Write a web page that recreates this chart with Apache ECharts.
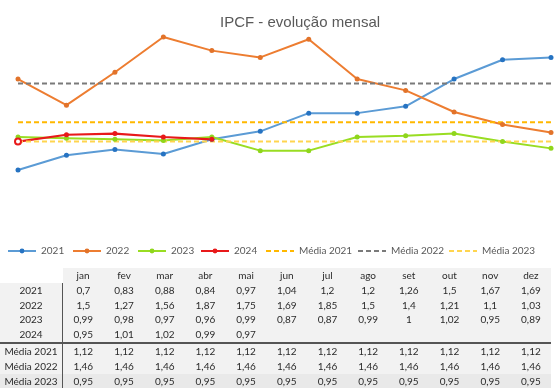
<!DOCTYPE html>
<html>
<head>
<meta charset="utf-8">
<script src="https://cdn.jsdelivr.net/npm/echarts@6/dist/echarts.min.js"></script>
<style>
  html, body { margin: 0; padding: 0; background: #fff; }
  #wrap { position: relative; width: 559px; height: 388px; overflow: hidden; }
  #chart { position: absolute; left: 0; top: 0; width: 559px; height: 388px; }
  #tbl { position: absolute; left: 0; top: 268px; border-collapse: collapse; font-family: Lato, "Liberation Sans", sans-serif; font-size: 10px; color: #2b2b2b; }
  #tbl td { height: 14.8px; padding: 0; text-align: center; background: #f2f2f2; line-height: 14.8px; }
  #tbl td.lab { width: 62px; }
  #tbl td.val { width: 40.7px; }
  #tbl td.corner { background: #fff; }
  #tbl td.vb { border-right: 1.5px solid #555; }
  #tbl tr.sep td { border-top: 2px solid #555; }
  #tbl tr.last td { background: #e9e9e9; }
</style>
</head>
<body>
<div id="wrap">
  <div id="chart"></div>
  <table id="tbl"></table>
</div>
<script>
const months = ['jan','fev','mar','abr','mai','jun','jul','ago','set','out','nov','dez'];
const s2021 = [0.7, 0.83, 0.88, 0.84, 0.97, 1.04, 1.2, 1.2, 1.26, 1.5, 1.67, 1.69];
const s2022 = [1.5, 1.27, 1.56, 1.87, 1.75, 1.69, 1.85, 1.5, 1.4, 1.21, 1.1, 1.03];
const s2023 = [0.99, 0.98, 0.97, 0.96, 0.99, 0.87, 0.87, 0.99, 1, 1.02, 0.95, 0.89];
const s2024 = [0.95, 1.01, 1.02, 0.99, 0.97];
const media2021 = [1.12, 1.12, 1.12, 1.12, 1.12, 1.12, 1.12, 1.12, 1.12, 1.12, 1.12, 1.12];
const media2022 = [1.46, 1.46, 1.46, 1.46, 1.46, 1.46, 1.46, 1.46, 1.46, 1.46, 1.46, 1.46];
const media2023 = [0.95, 0.95, 0.95, 0.95, 0.95, 0.95, 0.95, 0.95, 0.95, 0.95, 0.95, 0.95];

const rows = [
  ['2021', s2021], ['2022', s2022], ['2023', s2023], ['2024', s2024],
  ['Média 2021', media2021], ['Média 2022', media2022], ['Média 2023', media2023]
];

// build table
const fmt = v => (v === undefined ? '' : String(v).replace('.', ','));
let html = '<tr><td class="lab corner"></td>' + months.map(m => '<td class="val">' + m + '</td>').join('') + '</tr>';
rows.forEach((r, i) => {
  const cls = i === 4 ? ' class="sep"' : (i === 6 ? ' class="last"' : '');
  html += '<tr' + cls + '><td class="lab vb">' + r[0] + '</td>' + months.map((m, j) => '<td class="val">' + fmt(r[1][j]) + '</td>').join('') + '</tr>';
});
document.getElementById('tbl').innerHTML = html;

const chart = echarts.init(document.getElementById('chart'));
const lineSeries = (name, data, lineColor, markColor) => ({
  name, type: 'line', data,
  symbol: 'circle', symbolSize: 5, showSymbol: true,
  lineStyle: { color: lineColor, width: 2 },
  itemStyle: { color: markColor },
  emphasis: { disabled: true }
});
const dashSeries = (name, data, color) => ({
  name, type: 'line', data,
  symbol: 'none',
  lineStyle: { color, width: 2, type: [5, 3] },
  itemStyle: { color },
  emphasis: { disabled: true }
});
const s24 = lineSeries('2024', s2024.map((v, i) => i === 0 ? { value: v, symbol: 'emptyCircle', symbolSize: 6 } : v), '#e8191a', '#e8191a');
s24.lineStyle.width = 2.2;

const legendNames = ['2021', '2022', '2023', '2024', 'Média 2021', 'Média 2022', 'Média 2023'];
const legendLeft = [7, 72, 137, 200, 265, 357, 448];

chart.setOption({
  animation: false,
  title: {
    text: 'IPCF - evolução mensal', left: 215, top: 10,
    textStyle: { fontFamily: 'Liberation Sans', fontSize: 15, fontWeight: 'normal', color: '#595959' }
  },
  legend: legendNames.map((n, i) => ({
    left: legendLeft[i], top: 246, padding: 0, itemWidth: 28, itemHeight: 6, itemGap: 0,
    selectedMode: false,
    textStyle: { fontFamily: 'Lato', fontSize: 10, color: '#595959' },
    data: [n.startsWith('Média') ? { name: n, itemStyle: { opacity: 0 } } : n]
  })),
  grid: { left: 18, right: 8, top: 22.2, height: 170.5 },
  xAxis: {
    type: 'category', data: months, boundaryGap: false,
    axisLine: { show: false }, axisTick: { show: false }, axisLabel: { show: false }, splitLine: { show: false }
  },
  yAxis: {
    type: 'value', min: 0.5, max: 2.0,
    axisLine: { show: false }, axisTick: { show: false }, axisLabel: { show: false }, splitLine: { show: false }
  },
  series: [
    lineSeries('2021', s2021, '#5b9bd5', '#2673c2'),
    lineSeries('2022', s2022, '#ed7d31', '#e2732a'),
    lineSeries('2023', s2023, '#99dd22', '#8fd61c'),
    s24,
    dashSeries('Média 2021', media2021, '#ffb800'),
    dashSeries('Média 2022', media2022, '#7a7a7a'),
    dashSeries('Média 2023', media2023, '#ffd54f')
  ]
});
</script>
</body>
</html>
